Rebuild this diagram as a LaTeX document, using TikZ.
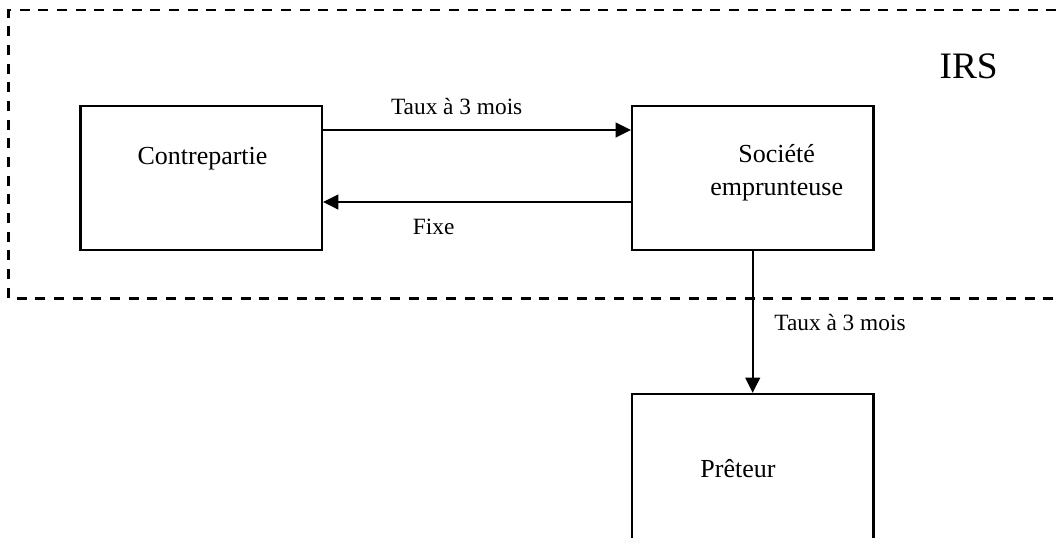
\documentclass[tikz,border=0pt]{standalone}
\usepackage{fontspec}
\setmainfont{Liberation Serif}
\usetikzlibrary{arrows.meta}

\tikzset{
  boite/.style={draw, line width=1.7pt, minimum width=181pt, minimum height=108pt, inner sep=0pt},
  fleche/.style={-{Triangle[length=11.5pt,width=11pt]}, line width=1.8pt},
  texteboite/.style={font=\fontsize{19.5}{25}\selectfont, align=center},
  etiquette/.style={font=\fontsize{17.5}{21}\selectfont}
}

\begin{document}
\begin{tikzpicture}[x=0.75pt,y=-0.75pt]
        \useasboundingbox (0,0) rectangle (1058,537);
        \clip (0,0) rectangle (1058,537);

        % zone IRS en pointilles
        \draw[line width=2.2pt, dash pattern=on 7.5pt off 6.5pt] (1075,10) -- (8.7,10) -- (8.7,298.3) -- (1075,298.3);
        \node[font=\fontsize{28}{32}\selectfont] (irs) at (968.7,66) {IRS};

        \node[boite] (contre) at (201.2,178) {};
        \node[boite] (societe) at (752.7,178) {};
        \node[boite, minimum height=114pt] (preteur) at (752.7,470) {};

        \node[texteboite] (tcontre) at (202.5,159) {Contrepartie};
        \node[texteboite] (tsociete) at (776.7,173) {Société\\emprunteuse};
        \node[texteboite] (tpreteur) at (738,468.5) {Prêteur};

        \coordinate (haut) at (0,130);
        \coordinate (bas) at (0,202);

        \draw[fleche] (contre.east |- haut) -- (societe.west |- haut);
        \draw[fleche] (societe.west |- bas) -- (contre.east |- bas);
        \draw[fleche] (societe.south) -- (preteur.north);

        \node[etiquette] (taux1) at (456.7,106) {Taux à 3 mois};
        \node[etiquette] (fixe) at (433.7,227) {Fixe};
        \node[etiquette] (taux2) at (840,322.5) {Taux à 3 mois};
    \end{tikzpicture}
\end{document}
